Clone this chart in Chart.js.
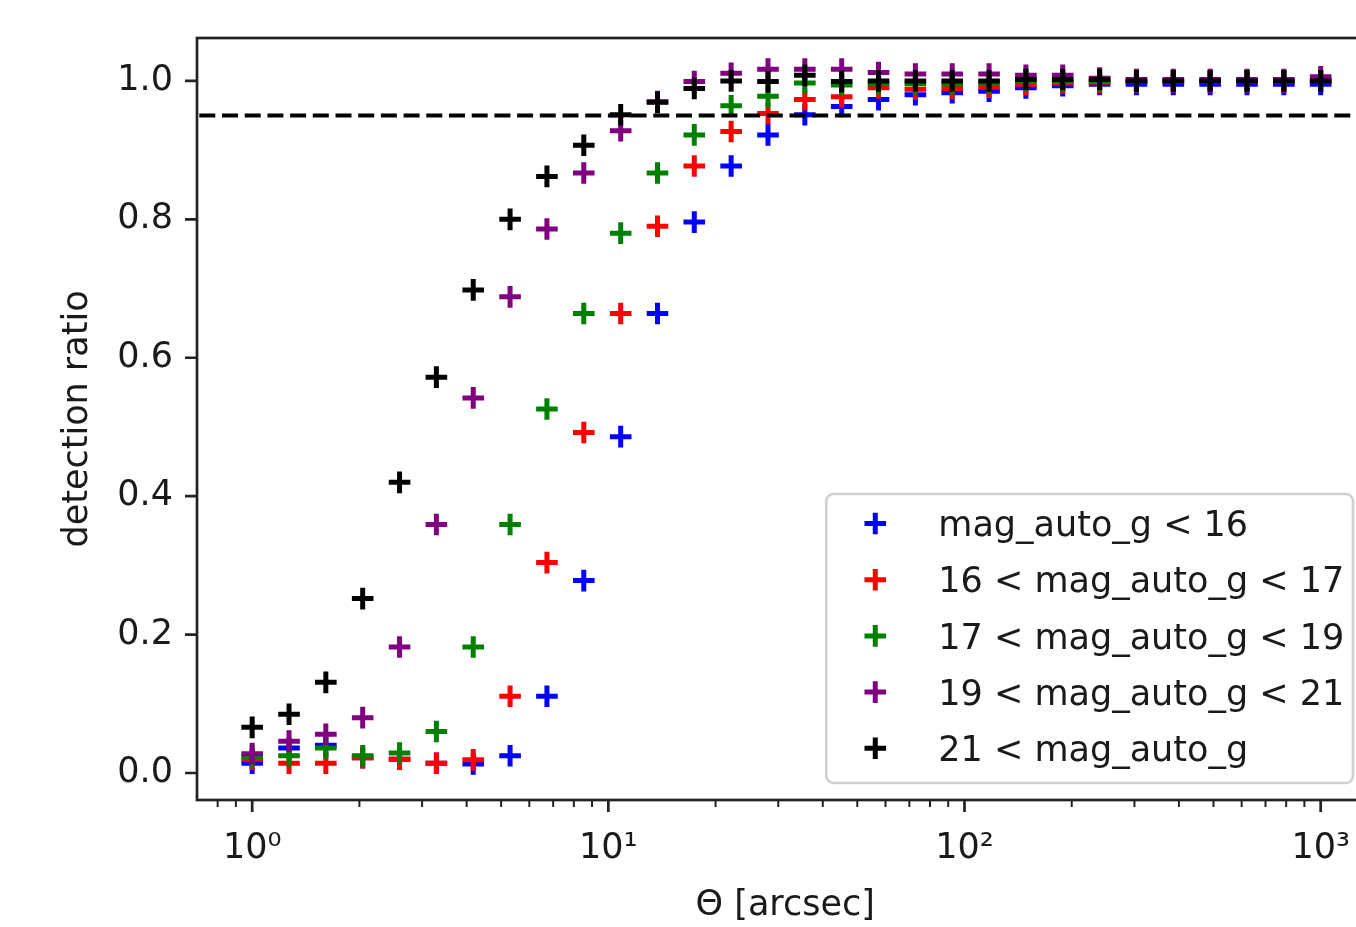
<!DOCTYPE html>
<html>
<head>
<meta charset="utf-8">
<script src="https://cdn.jsdelivr.net/npm/chart.js@4.4.0/dist/chart.umd.min.js"></script>
<style>
  html, body { margin: 0; padding: 0; background: #fff; overflow: hidden; }
  #wrap { width: 1380px; height: 927px; }
</style>
</head>
<body>
<div id="wrap"><canvas id="detChart" width="1380" height="927"></canvas></div>
<script>
// separation bins (arcsec), log spaced 1 .. 1000
const theta = [1.000, 1.269, 1.610, 2.043, 2.593, 3.290, 4.175, 5.298, 6.723, 8.532,
  10.83, 13.74, 17.43, 22.12, 28.07, 35.62, 45.20, 57.36, 72.79, 92.37,
  117.2, 148.7, 188.7, 239.5, 303.9, 385.7, 489.4, 621.0, 788.0, 1000.0];

// detection ratio per magnitude bin
const magLt16 = [0.014, 0.036, 0.040, 0.022, 0.020, 0.014, 0.013, 0.025, 0.111, 0.278,
  0.486, 0.664, 0.796, 0.877, 0.922, 0.951, 0.963, 0.973, 0.980, 0.983,
  0.985, 0.990, 0.993, 0.995, 0.995, 0.995, 0.995, 0.995, 0.995, 0.995];
const mag16to17 = [0.020, 0.014, 0.014, 0.022, 0.020, 0.014, 0.019, 0.111, 0.304, 0.492,
  0.664, 0.790, 0.877, 0.927, 0.953, 0.973, 0.977, 0.990, 0.988, 0.989,
  0.991, 0.995, 0.997, 0.998, 0.999, 0.999, 0.999, 0.999, 0.999, 1.000];
const mag17to19 = [0.024, 0.025, 0.036, 0.025, 0.029, 0.060, 0.182, 0.359, 0.526, 0.664,
  0.780, 0.867, 0.922, 0.964, 0.978, 0.997, 0.994, 0.996, 0.996, 0.996,
  0.997, 1.000, 1.000, 1.000, 1.000, 1.000, 1.000, 1.000, 1.000, 1.000];
const mag19to21 = [0.028, 0.046, 0.056, 0.080, 0.182, 0.359, 0.542, 0.688, 0.786, 0.867,
  0.928, 0.970, 0.999, 1.011, 1.017, 1.017, 1.017, 1.012, 1.010, 1.010,
  1.010, 1.008, 1.008, 1.004, 1.002, 1.002, 1.002, 1.002, 1.002, 1.006];
const magGt21 = [0.066, 0.085, 0.131, 0.252, 0.420, 0.572, 0.698, 0.800, 0.862, 0.907,
  0.951, 0.969, 0.989, 1.000, 0.999, 1.008, 0.999, 1.000, 1.000, 1.000,
  1.000, 1.002, 1.002, 1.002, 1.000, 1.000, 1.000, 1.000, 1.000, 1.000];

const seriesLabels = ['mag_auto_g < 16', '16 < mag_auto_g < 17', '17 < mag_auto_g < 19',
  '19 < mag_auto_g < 21', '21 < mag_auto_g'];
const seriesColors = ['#0000ff', '#ff0000', '#008000', '#800080', '#000000'];
const seriesValues = [magLt16, mag16to17, mag17to19, mag19to21, magGt21];

const threshold = 0.95;

const xMajorTicks = [1, 10, 100, 1000];
const xTickLabels = ['10\u2070', '10\u00b9', '10\u00b2', '10\u00b3'];
const xMinorTicks = [0.8, 0.9, 2, 3, 4, 5, 6, 7, 8, 9, 20, 30, 40, 50, 60, 70, 80, 90,
  200, 300, 400, 500, 600, 700, 800, 900];
const yTicks = [0, 0.2, 0.4, 0.6, 0.8, 1.0];
const yTickLabels = ['0.0', '0.2', '0.4', '0.6', '0.8', '1.0'];

const xMin = 0.7105, xMax = 1407;
const yMin = -0.039, yMax = 1.062;

const FS = 35;
const FONT = 'DejaVu Sans';
const TXT = '#1a1a1a';

const datasets = seriesValues.map((vals, i) => ({
  label: seriesLabels[i],
  data: vals.map((v, j) => ({ x: theta[j], y: v })),
  pointStyle: 'cross',
  pointRadius: 10.8,
  pointBorderWidth: 5,
  borderColor: seriesColors[i],
  backgroundColor: seriesColors[i],
  order: 10 - i,
  inLegend: true
}));

// dashed 0.95 line, drawn on top like axhline
datasets.push({
  type: 'line',
  label: 'threshold',
  data: [{ x: xMin, y: threshold }, { x: xMax, y: threshold }],
  showLine: true,
  borderColor: '#000',
  borderWidth: 3.8,
  borderDash: [16, 6.7],
  borderCapStyle: 'butt',
  pointRadius: 0,
  order: 0,
  inLegend: false
});

// matplotlib like frame + tick marks
const axesDecor = {
  id: 'axesDecor',
  afterDatasetsDraw(chart) {
    const { ctx, chartArea: a, scales: { x, y } } = chart;
    ctx.save();
    ctx.strokeStyle = '#222';
    ctx.lineCap = 'butt';

    ctx.lineWidth = 2.7;
    ctx.beginPath();
    xMajorTicks.forEach(v => {
      const px = x.getPixelForValue(v);
      ctx.moveTo(px, a.bottom);
      ctx.lineTo(px, a.bottom + 12);
    });
    yTicks.forEach(v => {
      const py = y.getPixelForValue(v);
      ctx.moveTo(a.left, py);
      ctx.lineTo(a.left - 12, py);
    });
    ctx.stroke();

    ctx.lineWidth = 2;
    ctx.beginPath();
    xMinorTicks.forEach(v => {
      const px = x.getPixelForValue(v);
      ctx.moveTo(px, a.bottom);
      ctx.lineTo(px, a.bottom + 7);
    });
    ctx.stroke();

    ctx.lineWidth = 2.7;
    ctx.strokeRect(a.left, a.top, a.right - a.left, a.bottom - a.top);
    ctx.restore();
  }
};

// legend in lower right, inside axes
const mplLegend = {
  id: 'mplLegend',
  afterDraw(chart) {
    const { ctx, chartArea: a } = chart;
    const items = chart.data.datasets.filter(d => d.inLegend);
    ctx.save();
    ctx.font = FS + 'px "' + FONT + '"';
    let textW = 0;
    items.forEach(d => { textW = Math.max(textW, ctx.measureText(d.label).width); });

    const pad = 0.4 * FS, handle = 2 * FS, textPad = 0.8 * FS;
    const rowPitch = 56.2;
    const boxW = pad + handle + textPad + textW + 0.25 * FS;
    const boxH = 289;
    const right = a.right - 20.5;
    const bottom = a.bottom - 17;
    const left = right - boxW, top = bottom - boxH;

    ctx.beginPath();
    ctx.roundRect(left, top, boxW, boxH, 0.2 * FS);
    ctx.fillStyle = 'rgba(255,255,255,0.8)';
    ctx.fill();
    ctx.lineWidth = 2.6;
    ctx.strokeStyle = '#d0d0d0';
    ctx.stroke();

    items.forEach((d, i) => {
      const cy = top + 29.5 + i * rowPitch;
      const cx = left + pad + handle / 2;
      const r = 10.8;
      ctx.strokeStyle = d.borderColor;
      ctx.lineWidth = 5;
      ctx.beginPath();
      ctx.moveTo(cx - r, cy); ctx.lineTo(cx + r, cy);
      ctx.moveTo(cx, cy - r); ctx.lineTo(cx, cy + r);
      ctx.stroke();

      ctx.fillStyle = TXT;
      ctx.textAlign = 'left';
      ctx.textBaseline = 'alphabetic';
      ctx.fillText(d.label, left + pad + handle + textPad, cy + 0.3645 * FS);
    });
    ctx.restore();
  }
};

const noEdgePadding = (s) => {
  s.paddingLeft = 0; s.paddingRight = 0; s.paddingTop = 0; s.paddingBottom = 0;
};

const ctx = document.getElementById('detChart').getContext('2d');
new Chart(ctx, {
  type: 'scatter',
  data: { datasets },
  options: {
    responsive: false,
    animation: false,
    events: [],
    layout: { autoPadding: false, padding: { top: 38, right: 1380 - 1373.5, left: 0, bottom: 0 } },
    plugins: {
      legend: { display: false },
      tooltip: { enabled: false }
    },
    scales: {
      x: {
        type: 'logarithmic',
        min: xMin,
        max: xMax,
        afterFit: (s) => { s.height = 127; noEdgePadding(s); },
        afterBuildTicks: (s) => {
          s.ticks = [...xMinorTicks, ...xMajorTicks].sort((p, q) => p - q).map(v => ({ value: v }));
        },
        ticks: {
          autoSkip: false,
          maxRotation: 0,
          minRotation: 0,
          padding: 16,
          color: TXT,
          font: { family: FONT, size: FS },
          callback: (v) => {
            const k = xMajorTicks.findIndex(m => Math.abs(m - v) < 1e-9);
            return k >= 0 ? xTickLabels[k] : '';
          }
        },
        grid: { drawOnChartArea: false, tickLength: 12, tickColor: 'rgba(0,0,0,0)' },
        border: { display: false },
        title: {
          display: true,
          text: '\u0398 [arcsec]',
          color: TXT,
          font: { family: FONT, size: FS },
          padding: { top: 0, bottom: 0 }
        }
      },
      y: {
        type: 'linear',
        min: yMin,
        max: yMax,
        afterFit: (s) => { s.width = 197; noEdgePadding(s); },
        afterBuildTicks: (s) => { s.ticks = yTicks.map(v => ({ value: v })); },
        ticks: {
          padding: 12,
          color: TXT,
          font: { family: FONT, size: FS },
          callback: (v) => {
            const k = yTicks.findIndex(t => Math.abs(t - v) < 1e-9);
            return k >= 0 ? yTickLabels[k] : '';
          }
        },
        grid: { drawOnChartArea: false, tickLength: 12, tickColor: 'rgba(0,0,0,0)' },
        border: { display: false },
        title: {
          display: true,
          text: 'detection ratio',
          color: TXT,
          font: { family: FONT, size: FS },
          padding: { top: 57, bottom: 0 }
        }
      }
    }
  },
  plugins: [axesDecor, mplLegend]
});
</script>
</body>
</html>
